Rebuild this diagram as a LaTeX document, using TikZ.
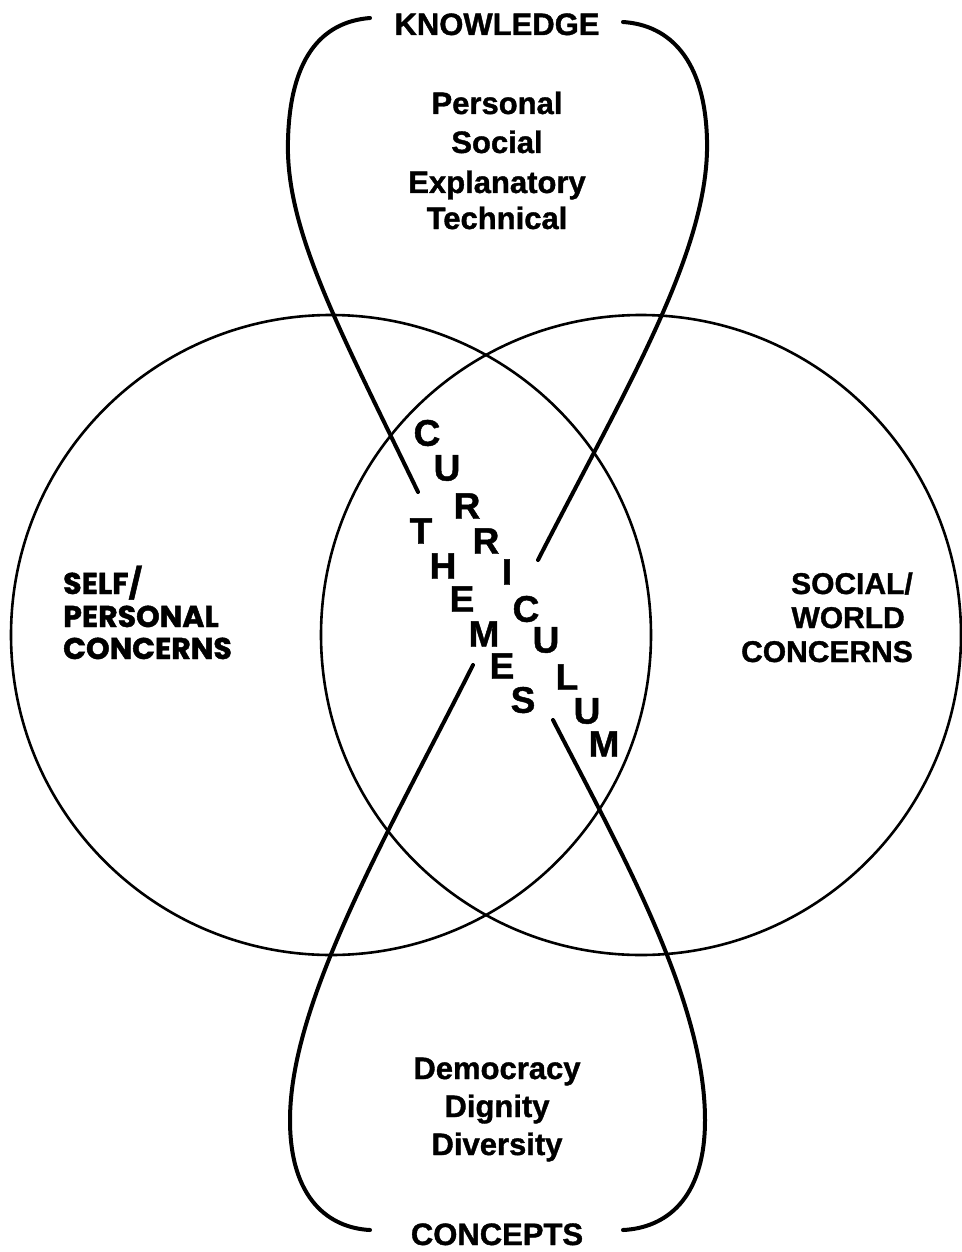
\documentclass[tikz,border=0pt]{standalone}
\usepackage{fontspec}
\setmainfont{Liberation Sans}[BoldFeatures={FakeBold=1.2}]
\newfontfamily\comicfont{Poppins}[BoldFeatures={FakeBold=1.5}]
\begin{document}
\begin{tikzpicture}[x=1pt,y=-1pt,
  circ/.style={line width=2.6pt},
  lobe/.style={line width=4pt, line cap=round},
  lbl/.style={font=\fontsize{31}{36}\selectfont\bfseries, inner sep=0, anchor=base},
  side/.style={font=\fontsize{30}{32}\selectfont\bfseries, inner sep=0},
  comic/.style={font=\comicfont\fontsize{30}{32}\selectfont\bfseries, inner sep=0, anchor=base west},
  letter/.style={font=\fontsize{37}{37}\selectfont\bfseries, inner sep=0},
]
\useasboundingbox (0,0) rectangle (961,1252);

% circles
\draw[circ] (331,635) circle[radius=320];
\draw[circ] (641,635) circle[radius=320];

% loop ends
\coordinate (tl) at (418,492);
\coordinate (tr) at (538,560);
\coordinate (bl) at (473,665);
\coordinate (br) at (553,720);
\coordinate (tlh) at (370,18);
\coordinate (trh) at (623,22);
\coordinate (blh) at (370,1230);
\coordinate (brh) at (623,1230);

% top loop
\draw[lobe] (tl) .. controls (340,330) and (285,230) .. (288,140)
  .. controls (290,60) and (320,22) .. (tlh);
\draw[lobe] (tr) .. controls (625,390) and (710,250) .. (707,140)
  .. controls (705,60) and (670,25) .. (trh);
% bottom loop
\draw[lobe] (bl) .. controls (390,830) and (290,1000) .. (290,1120)
  .. controls (290,1200) and (330,1228) .. (blh);
\draw[lobe] (br) .. controls (620,850) and (705,1000) .. (705,1120)
  .. controls (705,1200) and (665,1228) .. (brh);

% top texts
\node[lbl] (know) at (497,35) {KNOWLEDGE};
\node[lbl] (k1) at (497,114) {Personal};
\node[lbl] (k2) at (497,153) {Social};
\node[lbl] (k3) at (497,193) {Explanatory};
\node[lbl] (k4) at (497,229) {Technical};

% bottom texts
\node[lbl] (c1) at (497,1079) {Democracy};
\node[lbl] (c2) at (497,1117) {Dignity};
\node[lbl] (c3) at (497,1155) {Diversity};
\node[lbl] (conc) at (497,1245) {CONCEPTS};

% left texts
\node[comic] (s1) at (63,594) {SELF/};
\node[comic] (s2) at (63,627) {PERSONAL};
\node[comic] (s3) at (63,659) {CONCERNS};

% right texts
\node[side, anchor=base east] (w1) at (913,594) {SOCIAL/};
\node[side, anchor=base east] (w2) at (905,628) {WORLD};
\node[side, anchor=base east] (w3) at (913,662) {CONCERNS};

% CURRICULUM
\node[letter] (cu1) at (427,433) {C};
\node[letter] (cu2) at (447,468) {U};
\node[letter] (cu3) at (467,506) {R};
\node[letter] (cu4) at (486,541) {R};
\node[letter] (cu5) at (507,572) {I};
\node[letter] (cu6) at (526,609) {C};
\node[letter] (cu7) at (546,640) {U};
\node[letter] (cu8) at (567,677) {L};
\node[letter] (cu9) at (587,711) {U};
\node[letter] (cu10) at (604,744) {M};

% THEMES
\node[letter] (th1) at (421,531) {T};
\node[letter] (th2) at (443,566) {H};
\node[letter] (th3) at (462,599) {E};
\node[letter] (th4) at (484,634) {M};
\node[letter] (th5) at (502,666) {E};
\node[letter] (th6) at (523,700) {S};
\end{tikzpicture}
\end{document}
